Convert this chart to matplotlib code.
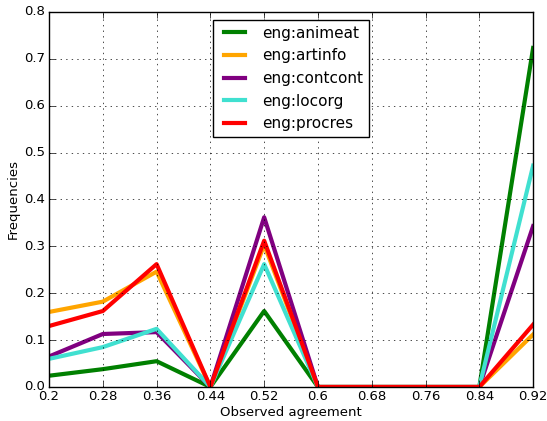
import matplotlib
matplotlib.use("Agg")
import matplotlib.pyplot as plt

# -----------------------------------
# DATA
# -----------------------------------

agreement = [0.2, 0.28, 0.36, 0.44, 0.52, 0.6, 0.68, 0.76, 0.84, 0.92]

animeat = [0.024, 0.038, 0.055, 0.0, 0.162, 0.0, 0.0, 0.0, 0.0, 0.723]
artinfo = [0.160, 0.182, 0.246, 0.0, 0.303, 0.0, 0.0, 0.0, 0.0, 0.112]
contcont = [0.065, 0.113, 0.117, 0.0, 0.362, 0.0, 0.0, 0.0, 0.0, 0.343]
locorg = [0.060, 0.085, 0.124, 0.0, 0.262, 0.0, 0.0, 0.0, 0.0, 0.472]
procres = [0.130, 0.162, 0.262, 0.0, 0.312, 0.0, 0.0, 0.0, 0.0, 0.133]

series = [
    ("eng:animeat", animeat, "green"),
    ("eng:artinfo", artinfo, "orange"),
    ("eng:contcont", contcont, "purple"),
    ("eng:locorg", locorg, "turquoise"),
    ("eng:procres", procres, "red"),
]

# -----------------------------------
# PLOT
# -----------------------------------

plt.style.use("classic")
plt.rcParams["font.size"] = 9.5
plt.rcParams["xtick.major.pad"] = 2
plt.rcParams["ytick.major.pad"] = 3

fig = plt.figure(figsize=(5.47, 4.21), dpi=100)
ax = fig.add_axes([0.0896, 0.0808, 0.885, 0.891])

for name, values, color in series:
    ax.plot(agreement, values, color=color, linewidth=3, label=name)

ax.set_xlim(0.2, 0.92)
ax.set_ylim(0, 0.8)
ax.set_xticks(agreement)
ax.set_xticklabels([f"{v:g}" for v in agreement])

ax.grid(True)

ax.set_xlabel("Observed agreement", labelpad=2)
ax.set_ylabel("Frequencies", labelpad=3)

ax.legend(loc="upper center", fontsize=11)

fig.savefig("out.png", dpi=100)
